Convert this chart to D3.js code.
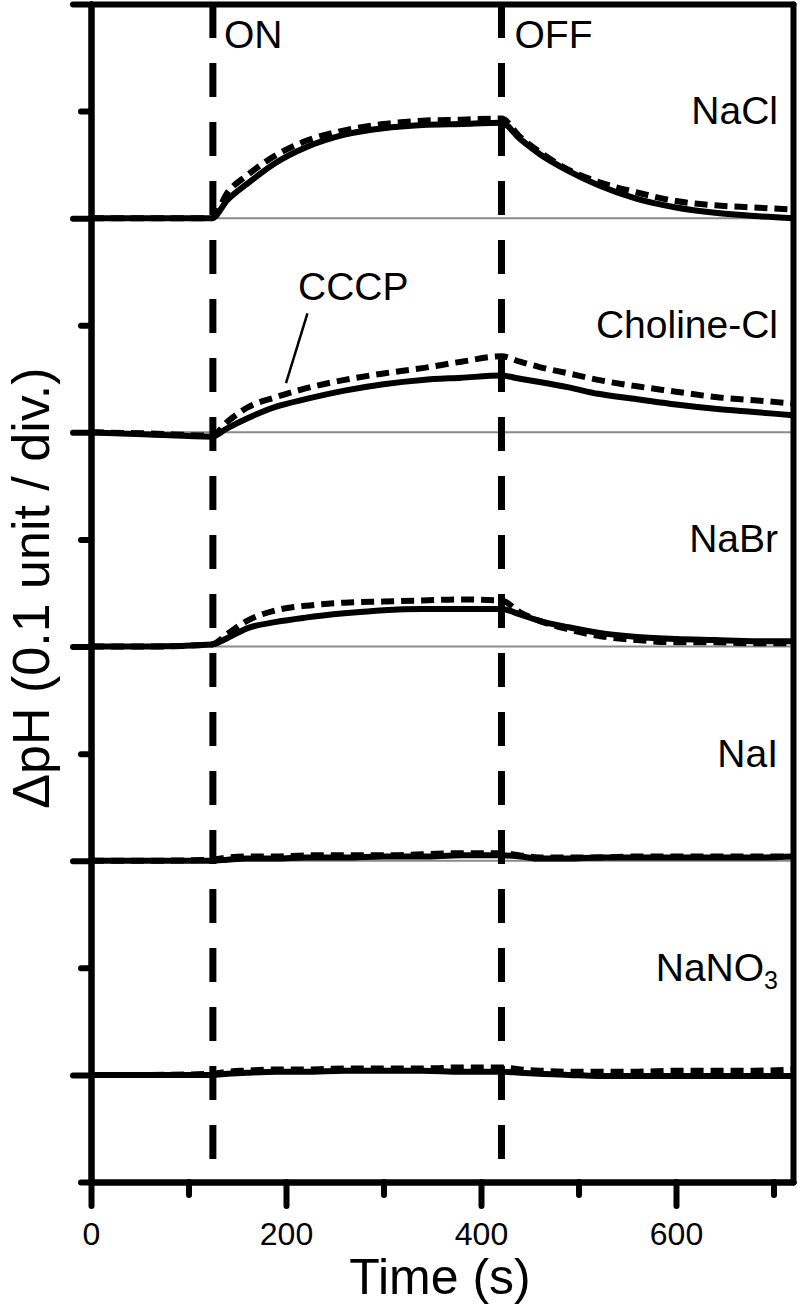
<!DOCTYPE html>
<html>
<head>
<meta charset="utf-8">
<script src="https://cdn.jsdelivr.net/npm/d3@7"></script>
<style>
  body { margin: 0; background: #fff; }
  svg { display: block; font-family: "Liberation Sans", Arial, sans-serif; }
</style>
</head>
<body>
<svg id="chart"></svg>
<script>
// sample times (s)
const times = [0, 60, 124, 140, 160, 190, 220, 260, 300, 340, 380, 421, 440, 460, 490, 520, 560, 600, 640, 680, 720];

// panels, top to bottom, with their baseline offset (pH units)
const panels = ["NaCl", "Choline-Cl", "NaBr", "NaI", "NaNO3"];
const offsets = [0.9, 0.7, 0.5, 0.3, 0.1];
const showBaseline = [true, true, true, true, false];

// control traces (solid), delta pH
const naclCtrl    = [0, 0, 0, 0.017, 0.032, 0.052, 0.066, 0.078, 0.084, 0.087, 0.088, 0.089, 0.074, 0.060, 0.044, 0.031, 0.018, 0.010, 0.005, 0.002, 0.000];
const cholineCtrl = [0, -0.002, -0.004, 0.004, 0.013, 0.024, 0.031, 0.039, 0.045, 0.049, 0.051, 0.053, 0.050, 0.047, 0.042, 0.036, 0.031, 0.026, 0.022, 0.019, 0.016];
const nabrCtrl    = [0, 0, 0.002, 0.008, 0.017, 0.023, 0.027, 0.031, 0.034, 0.035, 0.035, 0.035, 0.030, 0.024, 0.018, 0.013, 0.009, 0.007, 0.006, 0.005, 0.005];
const naiCtrl     = [0, 0, 0, 0.001, 0.002, 0.002, 0.003, 0.003, 0.004, 0.004, 0.005, 0.005, 0.004, 0.002, 0.002, 0.003, 0.003, 0.003, 0.003, 0.003, 0.004];
const nano3Ctrl   = [0, 0, 0, 0.001, 0.002, 0.003, 0.003, 0.004, 0.004, 0.004, 0.003, 0.003, 0.002, 0.001, 0.000, -0.001, -0.001, -0.001, -0.001, -0.001, -0.001];

// + CCCP traces (dashed)
const naclCccp    = [0, 0, 0, 0.024, 0.040, 0.059, 0.072, 0.082, 0.088, 0.091, 0.092, 0.093, 0.076, 0.062, 0.045, 0.034, 0.024, 0.016, 0.012, 0.010, 0.008];
const cholineCccp = [0, -0.001, -0.003, 0.010, 0.023, 0.033, 0.041, 0.049, 0.055, 0.060, 0.066, 0.071, 0.066, 0.061, 0.055, 0.049, 0.043, 0.038, 0.033, 0.030, 0.027];
const nabrCccp    = [0, 0, 0.002, 0.012, 0.024, 0.034, 0.038, 0.041, 0.042, 0.043, 0.044, 0.043, 0.032, 0.024, 0.016, 0.010, 0.006, 0.004, 0.004, 0.003, 0.003];
const naiCccp     = [0, 0, 0.001, 0.003, 0.004, 0.004, 0.005, 0.005, 0.005, 0.006, 0.007, 0.007, 0.005, 0.003, 0.003, 0.003, 0.004, 0.004, 0.004, 0.004, 0.004];
const nano3Cccp   = [0, 0, 0.001, 0.003, 0.004, 0.005, 0.005, 0.006, 0.006, 0.006, 0.007, 0.007, 0.005, 0.004, 0.003, 0.003, 0.003, 0.004, 0.004, 0.004, 0.005];

const ctrlSeries = [naclCtrl, cholineCtrl, nabrCtrl, naiCtrl, nano3Ctrl];
const cccpSeries = [naclCccp, cholineCccp, nabrCccp, naiCccp, nano3Cccp];

const onTime = 125;
const offTime = 421;

const xMajor = [0, 200, 400, 600];
const xMinor = [100, 300, 500, 700];
const yMajor = [0.1, 0.3, 0.5, 0.7, 0.9, 1.1];
const yMinor = [0, 0.2, 0.4, 0.6, 0.8, 1.0];

const width = 800;
const height = 1306;
const plotLeft = 91, plotRight = 793, plotTop = 4, plotBottom = 1182;

const svg = d3.select("#chart")
  .attr("width", width)
  .attr("height", height);

svg.append("rect").attr("width", width).attr("height", height).attr("fill", "#fff");

const xScale = d3.scaleLinear().domain([0, 720]).range([plotLeft, plotRight]);
const yScale = d3.scaleLinear().domain([0, 1.1]).range([plotBottom, plotTop]);

// gray baselines
svg.append("g")
  .selectAll("line")
  .data(offsets.filter((d, i) => showBaseline[i]))
  .enter()
  .append("line")
  .attr("x1", xScale(0))
  .attr("x2", xScale(720))
  .attr("y1", d => yScale(d))
  .attr("y2", d => yScale(d))
  .attr("stroke", "#8a8a8a")
  .attr("stroke-width", 2);

// ON / OFF markers
svg.append("g")
  .selectAll("line")
  .data([onTime, offTime])
  .enter()
  .append("line")
  .attr("x1", d => xScale(d))
  .attr("x2", d => xScale(d))
  .attr("y1", yScale(1.1))
  .attr("y2", yScale(0))
  .attr("stroke", "#000")
  .attr("stroke-width", 7)
  .attr("stroke-dasharray", "34,25");

// traces
const line = d3.line()
  .x((d, i) => xScale(times[i]))
  .curve(d3.curveMonotoneX);

panels.forEach((name, p) => {
  const base = offsets[p];
  line.y(d => yScale(base + d));
  svg.append("path")
    .attr("d", line(ctrlSeries[p]))
    .attr("fill", "none")
    .attr("stroke", "#000")
    .attr("stroke-width", 6)
    .attr("stroke-linejoin", "round");
  svg.append("path")
    .attr("d", line(cccpSeries[p]))
    .attr("fill", "none")
    .attr("stroke", "#000")
    .attr("stroke-width", 6)
    .attr("stroke-dasharray", "13,7");
});

// axes
function styleAxis(g, w) {
  g.selectAll("path, line").attr("stroke", "#000").attr("stroke-width", w).attr("stroke-linecap", "round");
}

svg.append("g")
  .attr("transform", `translate(0,${plotBottom})`)
  .call(d3.axisBottom(xScale).tickValues(xMinor).tickSize(13).tickSizeOuter(0).tickFormat(""))
  .call(g => styleAxis(g, 6));

svg.append("g")
  .attr("transform", `translate(0,${plotBottom})`)
  .call(d3.axisBottom(xScale).tickValues(xMajor).tickSize(24).tickSizeOuter(0).tickPadding(16))
  .call(g => styleAxis(g, 6))
  .call(g => g.selectAll("text").attr("font-size", 32).attr("fill", "#000").attr("font-family", "Liberation Sans, Arial, sans-serif"));

svg.append("g")
  .attr("transform", `translate(${plotLeft},0)`)
  .call(d3.axisLeft(yScale).tickValues(yMinor).tickSize(10).tickSizeOuter(0).tickFormat(""))
  .call(g => styleAxis(g, 6));

svg.append("g")
  .attr("transform", `translate(${plotLeft},0)`)
  .call(d3.axisLeft(yScale).tickValues(yMajor).tickSize(18).tickSizeOuter(0).tickFormat(""))
  .call(g => styleAxis(g, 6));

svg.append("g")
  .attr("transform", `translate(0,${plotTop})`)
  .call(d3.axisTop(xScale).tickValues([]).tickSizeOuter(0))
  .call(g => styleAxis(g, 6));

svg.append("g")
  .attr("transform", `translate(${plotRight},0)`)
  .call(d3.axisRight(yScale).tickValues([]).tickSizeOuter(0))
  .call(g => styleAxis(g, 6));

// panel labels
const labels = svg.append("g")
  .attr("font-size", 39)
  .attr("text-anchor", "end")
  .attr("fill", "#000");

panels.forEach((name, p) => {
  const t = labels.append("text")
    .attr("x", plotRight - 15)
    .attr("y", yScale(offsets[p] + 0.1) + 13);
  if (name === "NaNO3") {
    t.append("tspan").text("NaNO");
    t.append("tspan").text("3").attr("font-size", 25).attr("dy", 8);
  } else {
    t.text(name);
  }
});

// ON / OFF text
svg.append("text").attr("x", xScale(onTime) + 11).attr("y", 48).attr("font-size", 39).text("ON");
svg.append("text").attr("x", xScale(offTime) + 13).attr("y", 48).attr("font-size", 39).text("OFF");

// CCCP annotation
svg.append("text").attr("x", 298).attr("y", 300).attr("font-size", 39).text("CCCP");
svg.append("line")
  .attr("x1", xScale(222)).attr("y1", yScale(0.7 + 0.111))
  .attr("x2", xScale(200)).attr("y2", yScale(0.7 + 0.046))
  .attr("stroke", "#000").attr("stroke-width", 2.5);

// axis titles
svg.append("text")
  .attr("x", 440)
  .attr("y", 1294)
  .attr("text-anchor", "middle")
  .attr("font-size", 50)
  .text("Time (s)");

svg.append("text")
  .attr("transform", `translate(49,588) rotate(-90)`)
  .attr("text-anchor", "middle")
  .attr("font-size", 52)
  .text("ΔpH (0.1 unit / div.)");
</script>
</body>
</html>
